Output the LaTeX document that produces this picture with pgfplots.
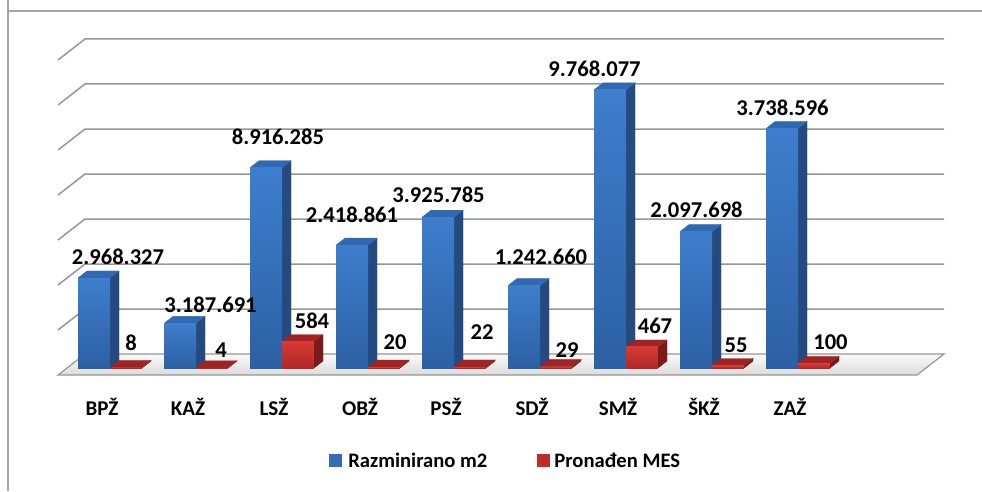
\documentclass[border=0pt]{standalone}
\usepackage{fontspec}
\setmainfont{Carlito}
\usepackage{pgfplots}
\usepackage{pgfplotstable}
\pgfplotsset{compat=1.18}
\definecolor{bfront}{RGB}{62,126,204}
\definecolor{bfrontb}{RGB}{44,96,164}
\definecolor{bside}{RGB}{36,74,128}
\definecolor{btop}{RGB}{48,104,178}
\definecolor{blegend}{RGB}{52,108,182}
\definecolor{rfront}{RGB}{214,58,52}
\definecolor{rfrontb}{RGB}{176,40,40}
\definecolor{rside}{RGB}{122,26,26}
\definecolor{rtop}{RGB}{160,36,36}
\definecolor{rlegend}{RGB}{192,44,44}
\definecolor{gridc}{RGB}{150,150,150}
\pgfplotstableread{
idx blue red
0 2000 8
1 990 4
2 4450 584
3 2730 20
4 3350 22
5 1830 29
6 6180 467
7 3030 55
8 5320 100
}\data
\newcommand\drawbar[6]{%
  \pgfmathsetmacro\xa{#1}%
  \pgfmathsetmacro\xb{#1+0.372}%
  \pgfmathsetmacro\xc{#1+0.372+0.105}%
  \pgfmathsetmacro\xd{#1+0.105}%
  \pgfmathsetmacro\ya{-311}%
  \pgfmathsetmacro\yb{-311+#2}%
  \pgfmathsetmacro\yc{-155+#2}%
  \pgfmathsetmacro\yd{-155}%
  \edef\tmp{%
    \noexpand\addplot[draw=#5, line width=0.2pt, fill=#5] coordinates {(\xb,\ya) (\xb,\yb) (\xc,\yc) (\xc,\yd) (\xb,\ya)};
    \noexpand\addplot[draw=#6, line width=0.2pt, fill=#6] coordinates {(\xa,\yb) (\xb,\yb) (\xc,\yc) (\xd,\yc) (\xa,\yb)};
    \noexpand\addplot[draw=none, top color=#3, bottom color=#4] coordinates {(\xa,\ya) (\xa,\yb) (\xb,\yb) (\xb,\ya) (\xa,\ya)};
  }%
  \tmp
}
\begin{document}
\begin{tikzpicture}
\begin{axis}[
  name=ax,
  scale only axis, width=491pt, height=245.5pt,
  xmin=-1.27907, xmax=10.13953, ymin=-3044.44, ymax=7866.67,
  hide axis, clip=false,
]
% frame
\draw[gray!70, line width=0.8pt] (axis cs:-1.1860,7866.67) -- (axis cs:-1.1860,7622) -- (axis cs:-1.1860,-3044.44);
\draw[gray!70, line width=0.8pt] (axis cs:-1.1860,7622) -- (axis cs:10.13953,7622);
% floor
\draw[gridc, line width=0.6pt, top color=gray!4, bottom color=gray!28]
  (axis cs:-0.2907,0) -- (axis cs:9.698,0) -- (axis cs:9.384,-467) -- (axis cs:-0.6047,-467) -- cycle;
% gridlines
\draw[gridc, line width=0.75pt] (axis cs:-0.6047,533) -- (axis cs:-0.2907,1000) -- (axis cs:9.698,1000);
\draw[gridc, line width=0.75pt] (axis cs:-0.6047,1533) -- (axis cs:-0.2907,2000) -- (axis cs:9.698,2000);
\draw[gridc, line width=0.75pt] (axis cs:-0.6047,2533) -- (axis cs:-0.2907,3000) -- (axis cs:9.698,3000);
\draw[gridc, line width=0.75pt] (axis cs:-0.6047,3533) -- (axis cs:-0.2907,4000) -- (axis cs:9.698,4000);
\draw[gridc, line width=0.75pt] (axis cs:-0.6047,4533) -- (axis cs:-0.2907,5000) -- (axis cs:9.698,5000);
\draw[gridc, line width=0.75pt] (axis cs:-0.6047,5533) -- (axis cs:-0.2907,6000) -- (axis cs:9.698,6000);
\draw[gridc, line width=0.75pt] (axis cs:-0.6047,6533) -- (axis cs:-0.2907,7000) -- (axis cs:9.698,7000);
% bars
\pgfplotsforeachungrouped \idx in {0,...,8}{%
  \pgfplotstablegetelem{\idx}{blue}\of\data \let\vb\pgfplotsretval
  \pgfplotstablegetelem{\idx}{red}\of\data \let\vr\pgfplotsretval
  \drawbar{\idx-0.372}{\vb}{bfront}{bfrontb}{bside}{btop}%
  \drawbar{\idx}{\vr}{rfront}{rfrontb}{rside}{rtop}%
}
% legend
\fill[blegend] (axis cs:2.5465,-2222) rectangle (axis cs:2.6977,-2511);
\fill[rlegend] (axis cs:4.9651,-2222) rectangle (axis cs:5.1163,-2511);
\node[anchor=west, inner sep=0pt, font=\bfseries\fontsize{10.3}{12}\selectfont] at (axis cs:2.7674,-2367) {Razminirano m2};
\node[anchor=west, inner sep=0pt, font=\bfseries\fontsize{10.3}{12}\selectfont] at (axis cs:5.1628,-2367) {Pronađen MES};
% labels
\begin{scope}[every node/.style={font=\bfseries\fontsize{11.3}{13}\selectfont, inner sep=0pt}]
\node at (axis cs:0.093,2156) {2.968.327};
\node at (axis cs:1.169,1089) {3.187.691};
\node at (axis cs:1.953,4829) {8.916.285};
\node at (axis cs:2.814,3089) {2.418.861};
\node at (axis cs:3.820,3533) {3.925.785};
\node at (axis cs:5.012,2162) {1.242.660};
\node at (axis cs:5.634,6349) {9.768.077};
\node at (axis cs:6.820,3200) {2.097.698};
\node at (axis cs:7.820,5482) {3.738.596};
\node at (axis cs:0.244,244) {8};
\node at (axis cs:1.291,89) {4};
\node at (axis cs:2.349,733) {584};
\node at (axis cs:3.314,267) {20};
\node at (axis cs:4.326,496) {22};
\node at (axis cs:5.314,89) {29};
\node at (axis cs:6.337,622) {467};
\node at (axis cs:7.279,200) {55};
\node at (axis cs:8.378,273) {100};
\end{scope}
\begin{scope}[every node/.style={font=\bfseries\fontsize{10.5}{12}\selectfont, inner sep=0pt}]
\node at (axis cs:-0.093,-1171) {BPŽ};
\node at (axis cs:0.907,-1171) {KAŽ};
\node at (axis cs:1.907,-1171) {LSŽ};
\node at (axis cs:2.907,-1171) {OBŽ};
\node at (axis cs:3.907,-1171) {PSŽ};
\node at (axis cs:4.907,-1171) {SDŽ};
\node at (axis cs:5.907,-1171) {SMŽ};
\node at (axis cs:6.907,-1171) {ŠKŽ};
\node at (axis cs:7.907,-1171) {ZAŽ};
\end{scope}
\end{axis}
\pgfresetboundingbox
\path[use as bounding box] (ax.south west) rectangle (ax.north east);
\end{tikzpicture}
\end{document}
